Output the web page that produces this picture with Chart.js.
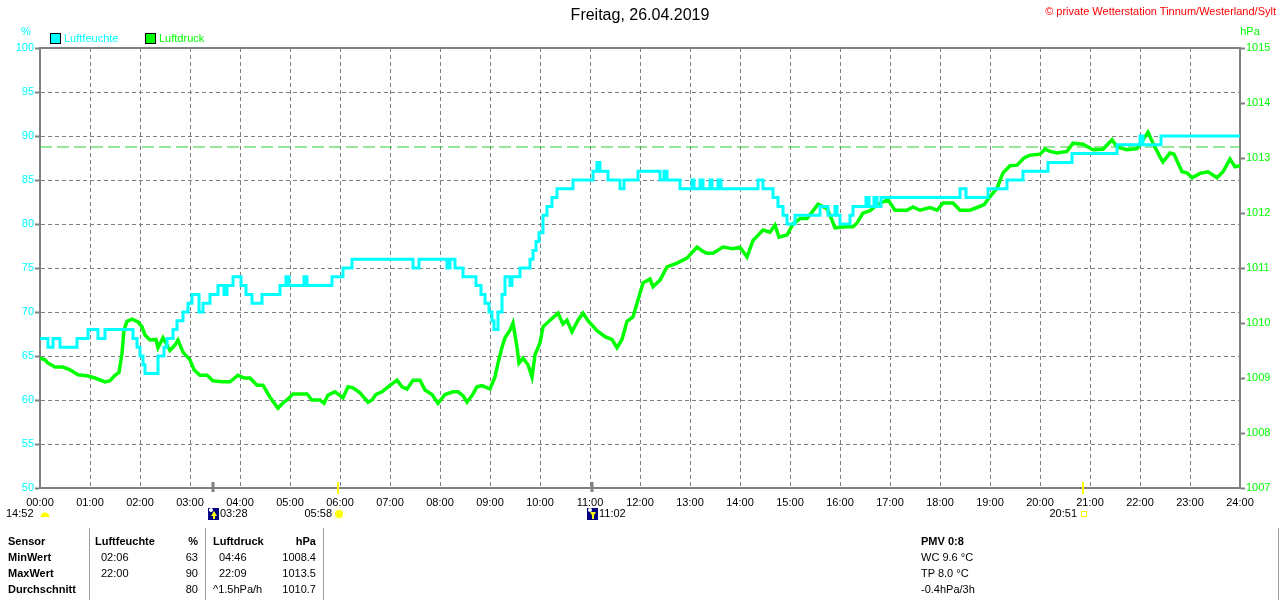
<!DOCTYPE html>
<html>
<head>
<meta charset="utf-8">
<title>Freitag, 26.04.2019</title>
<script src="https://cdn.jsdelivr.net/npm/chart.js@4.4.1/dist/chart.umd.min.js"></script>
<style>
  body { margin: 0; background: #fff; font-family: "Liberation Sans", Arial, sans-serif; }
  #wrap { position: relative; width: 1280px; height: 600px; overflow: hidden; }
  #chart { position: absolute; left: 0; top: 0; }
  .t { position: absolute; font-size: 11px; line-height: 13px; white-space: nowrap; color: #000; }
  .b { font-weight: bold; }
  .sep { position: absolute; top: 528px; width: 1px; height: 72px; background: #a0a0a0; }
</style>
</head>
<body>
<div id="wrap">
  <canvas id="chart" width="1280" height="600"></canvas>

  <span class="t" style="right:4px;top:5px;color:#f00">© private Wetterstation Tinnum/Westerland/Sylt</span>

  <div class="sep" style="left:89px"></div>
  <div class="sep" style="left:205px"></div>
  <div class="sep" style="left:323px"></div>
  <div class="sep" style="left:1278px"></div>

  <span class="t b" style="left:8px;top:535px">Sensor</span>
  <span class="t b" style="left:8px;top:551px">MinWert</span>
  <span class="t b" style="left:8px;top:567px">MaxWert</span>
  <span class="t b" style="left:8px;top:583px">Durchschnitt</span>

  <span class="t b" style="left:95px;top:535px">Luftfeuchte</span>
  <span class="t b" style="right:1082px;top:535px">%</span>
  <span class="t" style="left:101px;top:551px">02:06</span>
  <span class="t" style="right:1082px;top:551px">63</span>
  <span class="t" style="left:101px;top:567px">22:00</span>
  <span class="t" style="right:1082px;top:567px">90</span>
  <span class="t" style="right:1082px;top:583px">80</span>

  <span class="t b" style="left:213px;top:535px">Luftdruck</span>
  <span class="t b" style="right:964px;top:535px">hPa</span>
  <span class="t" style="left:219px;top:551px">04:46</span>
  <span class="t" style="right:964px;top:551px">1008.4</span>
  <span class="t" style="left:219px;top:567px">22:09</span>
  <span class="t" style="right:964px;top:567px">1013.5</span>
  <span class="t" style="left:213px;top:583px">^1.5hPa/h</span>
  <span class="t" style="right:964px;top:583px">1010.7</span>

  <span class="t b" style="left:921px;top:535px">PMV 0:8</span>
  <span class="t" style="left:921px;top:551px">WC 9.6 °C</span>
  <span class="t" style="left:921px;top:567px">TP 8.0 °C</span>
  <span class="t" style="left:921px;top:583px">-0.4hPa/3h</span>
</div>

<script>
// time axis in hours since midnight
const xTickLabels = ['00:00', '01:00', '02:00', '03:00', '04:00', '05:00', '06:00', '07:00', '08:00',
  '09:00', '10:00', '11:00', '12:00', '13:00', '14:00', '15:00', '16:00', '17:00', '18:00',
  '19:00', '20:00', '21:00', '22:00', '23:00', '24:00'];
const humTicks = [50, 55, 60, 65, 70, 75, 80, 85, 90, 95, 100];
const presTicks = [1007, 1008, 1009, 1010, 1011, 1012, 1013, 1014, 1015];

// Luftfeuchte (%), value valid from the given time on
const humTimes = [0.00, 0.16, 0.26, 0.40, 0.74, 0.96, 1.16, 1.30, 1.86, 1.94, 2.00, 2.06, 2.10,
  2.36, 2.48, 2.54, 2.66, 2.74, 2.86, 2.96, 3.04, 3.18, 3.26, 3.40, 3.56, 3.68, 3.74, 3.86,
  4.02, 4.12, 4.24, 4.44, 4.80, 4.92, 4.98, 5.28, 5.34, 5.84, 6.06, 6.24, 7.46, 7.58, 8.14,
  8.20, 8.30, 8.46, 8.72, 8.82, 8.90, 8.98, 9.04, 9.08, 9.16, 9.24, 9.30, 9.40, 9.44, 9.60,
  9.80, 9.86, 9.92, 9.98, 10.06, 10.14, 10.24, 10.34, 10.66, 11.06, 11.14, 11.20, 11.36,
  11.60, 11.68, 11.96, 12.40, 12.48, 12.54, 12.80, 13.04, 13.08, 13.20, 13.26, 13.40, 13.44,
  13.56, 13.62, 14.36, 14.46, 14.66, 14.76, 14.86, 14.94, 15.10, 15.60, 15.76, 15.90, 15.94,
  16.00, 16.20, 16.26, 16.52, 16.58, 16.68, 16.74, 16.82, 18.40, 18.52, 18.96, 19.34, 19.66,
  20.16, 20.64, 21.54, 22.00, 22.06, 22.42, 24.00];
const humValues = [67, 66, 67, 66, 67, 68, 67, 68, 67, 66, 65, 64, 63,
  65, 66, 67, 68, 69, 70, 71, 72, 70, 71, 72, 73, 72, 73, 74,
  73, 72, 71, 72, 73, 74, 73, 74, 73, 74, 75, 76, 75, 76, 75,
  76, 75, 74, 73, 72, 71, 70, 69, 68, 70, 72, 74, 73, 74, 75,
  76, 77, 78, 79, 81, 82, 83, 84, 85, 86, 87, 86, 85,
  84, 85, 86, 85, 86, 85, 84, 85, 84, 85, 84, 85, 84,
  85, 84, 85, 84, 83, 82, 81, 80, 81, 82, 81, 82, 81,
  80, 81, 82, 83, 82, 83, 82, 83, 84, 83, 84, 85, 86,
  87, 88, 89, 90, 89, 90, 90];

// Luftdruck (hPa)
const presTimes = [0.00, 0.10, 0.16, 0.30, 0.46, 0.60, 0.76, 0.94, 1.10, 1.30, 1.40, 1.50, 1.58,
  1.64, 1.68, 1.74, 1.84, 1.96, 2.04, 2.10, 2.20, 2.32, 2.36, 2.46, 2.54, 2.60, 2.70, 2.76,
  2.86, 3.00, 3.08, 3.20, 3.34, 3.46, 3.64, 3.80, 3.96, 4.08, 4.20, 4.34, 4.46, 4.60, 4.76,
  4.86, 4.94, 5.06, 5.34, 5.44, 5.60, 5.68, 5.76, 5.90, 6.06, 6.16, 6.26, 6.40, 6.56, 6.64,
  6.72, 6.84, 6.96, 7.14, 7.24, 7.34, 7.46, 7.60, 7.70, 7.84, 7.96, 8.10, 8.26, 8.36, 8.46,
  8.54, 8.64, 8.74, 8.84, 9.00, 9.10, 9.16, 9.24, 9.30, 9.40, 9.46, 9.54, 9.58, 9.66, 9.76,
  9.84, 9.90, 10.00, 10.06, 10.20, 10.36, 10.46, 10.54, 10.64, 10.76, 10.86, 10.96, 11.14,
  11.30, 11.44, 11.54, 11.64, 11.74, 11.86, 11.96, 12.06, 12.20, 12.26, 12.40, 12.54, 12.74,
  12.94, 13.14, 13.26, 13.34, 13.46, 13.66, 13.86, 14.00, 14.14, 14.26, 14.46, 14.60, 14.70,
  14.78, 14.94, 15.06, 15.20, 15.34, 15.46, 15.56, 15.74, 15.84, 15.90, 16.10, 16.26, 16.34,
  16.46, 16.60, 16.74, 16.86, 16.96, 17.10, 17.34, 17.46, 17.60, 17.80, 17.94, 18.06, 18.26,
  18.40, 18.60, 18.74, 18.88, 19.00, 19.14, 19.26, 19.40, 19.54, 19.68, 19.80, 20.00, 20.10,
  20.20, 20.34, 20.54, 20.66, 20.86, 21.06, 21.26, 21.44, 21.54, 21.74, 21.94, 22.06, 22.16,
  22.26, 22.40, 22.46, 22.60, 22.68, 22.76, 22.84, 22.94, 23.04, 23.20, 23.36, 23.54, 23.66,
  23.80, 23.90, 24.00];
const presValues = [1009.36, 1009.33, 1009.27, 1009.20, 1009.20, 1009.15, 1009.06, 1009.04, 1009.00,
  1008.93, 1008.95, 1009.05, 1009.10, 1009.45, 1009.87, 1010.03, 1010.07, 1010.02, 1009.93,
  1009.78, 1009.69, 1009.70, 1009.55, 1009.73, 1009.60, 1009.50, 1009.60, 1009.69, 1009.47,
  1009.33, 1009.15, 1009.05, 1009.05, 1008.95, 1008.93, 1008.93, 1009.05, 1009.00, 1009.00,
  1008.87, 1008.87, 1008.65, 1008.45, 1008.55, 1008.60, 1008.71, 1008.71, 1008.60, 1008.60,
  1008.54, 1008.69, 1008.75, 1008.64, 1008.84, 1008.82, 1008.73, 1008.56, 1008.60, 1008.70,
  1008.75, 1008.84, 1008.96, 1008.84, 1008.80, 1008.96, 1008.96, 1008.78, 1008.70, 1008.54,
  1008.70, 1008.75, 1008.75, 1008.68, 1008.56, 1008.68, 1008.84, 1008.86, 1008.80, 1009.02,
  1009.27, 1009.56, 1009.73, 1009.87, 1010.00, 1009.56, 1009.27, 1009.36, 1009.24, 1009.02,
  1009.42, 1009.64, 1009.93, 1010.05, 1010.18, 1009.98, 1010.05, 1009.84, 1010.05, 1010.18,
  1010.04, 1009.86, 1009.75, 1009.70, 1009.55, 1009.70, 1010.03, 1010.11, 1010.42, 1010.73,
  1010.80, 1010.66, 1010.78, 1011.02, 1011.09, 1011.18, 1011.38, 1011.30, 1011.27, 1011.27,
  1011.38, 1011.35, 1011.38, 1011.20, 1011.50, 1011.69, 1011.65, 1011.78, 1011.56, 1011.60,
  1011.80, 1011.90, 1011.90, 1012.04, 1012.16, 1012.08, 1011.87, 1011.73, 1011.75, 1011.75,
  1011.82, 1012.00, 1012.04, 1012.15, 1012.20, 1012.24, 1012.05, 1012.05, 1012.11, 1012.05,
  1012.10, 1012.05, 1012.18, 1012.18, 1012.05, 1012.05, 1012.10, 1012.15, 1012.30, 1012.45,
  1012.73, 1012.86, 1012.87, 1013.00, 1013.05, 1013.07, 1013.16, 1013.12, 1013.09, 1013.12,
  1013.27, 1013.25, 1013.15, 1013.16, 1013.33, 1013.20, 1013.15, 1013.17, 1013.33, 1013.47,
  1013.27, 1013.02, 1012.93, 1013.09, 1013.07, 1012.91, 1012.75, 1012.73, 1012.64, 1012.72,
  1012.75, 1012.64, 1012.75, 1012.98, 1012.84, 1012.86];

const refPressure = 1013.2;

// moon / sun rise and set
const eventTimes = [3 + 28 / 60, 5 + 58 / 60, 11 + 2 / 60, 20 + 51 / 60];
const eventLabels = ['03:28', '05:58', '11:02', '20:51'];
const eventKinds = ['moonrise', 'sunrise', 'moonset', 'sunset'];
const dayLength = '14:52';

const FONT = '"Liberation Sans", Arial, sans-serif';
const CYAN = '#00ffff';
const GREEN = '#00ff00';
const GRID = '#808080';

Chart.defaults.font.family = FONT;
Chart.defaults.font.size = 11;

function toPoints(xs, ys) {
    return xs.map((x, i) => ({ x: x, y: ys[i] }));
}

const extras = {
    id: 'extras',
    afterDraw(chart) {
        const ctx = chart.ctx;
        const area = chart.chartArea;
        const x = chart.scales.x;
        ctx.save();

        // top frame line
        ctx.strokeStyle = GRID;
        ctx.lineWidth = 2;
        ctx.beginPath();
        ctx.moveTo(area.left - 1, area.top);
        ctx.lineTo(area.right + 1, area.top);
        ctx.stroke();

        ctx.font = '11px ' + FONT;
        ctx.textBaseline = 'middle';

        // legend
        [['Luftfeuchte', CYAN, 50], ['Luftdruck', GREEN, 145]].forEach(item => {
            ctx.fillStyle = item[1];
            ctx.fillRect(item[2], 33, 10, 10);
            ctx.strokeStyle = '#000';
            ctx.lineWidth = 1;
            ctx.strokeRect(item[2] + 0.5, 33.5, 10, 10);
            ctx.fillText(item[0], item[2] + 14, 38.5);
        });

        // axis units
        ctx.textAlign = 'center';
        ctx.fillStyle = CYAN;
        ctx.fillText('%', 26, 32);
        ctx.fillStyle = GREEN;
        ctx.fillText('hPa', 1250, 32);

        // day length
        ctx.textAlign = 'left';
        ctx.fillStyle = '#000';
        ctx.fillText(dayLength, 6, 514);
        ctx.fillStyle = '#ffff00';
        ctx.beginPath();
        ctx.arc(45, 517, 4.5, Math.PI, 0);
        ctx.fill();

        // rise / set markers
        eventTimes.forEach((t, i) => {
            const px = Math.round(x.getPixelForValue(t));
            const kind = eventKinds[i];
            const isSun = kind.startsWith('sun');
            ctx.strokeStyle = isSun ? '#ffff00' : GRID;
            ctx.lineWidth = isSun ? 2 : 3;
            ctx.beginPath();
            ctx.moveTo(px, area.bottom - 6);
            ctx.lineTo(px, area.bottom + (isSun ? 6 : 4));
            ctx.stroke();

            ctx.fillStyle = '#000';
            if (isSun) {
                ctx.textAlign = 'right';
                ctx.fillText(eventLabels[i], px - 6, 514);
                if (kind === 'sunrise') {
                    ctx.fillStyle = '#ffff00';
                    ctx.beginPath();
                    ctx.arc(px + 1, 514, 4, 0, Math.PI * 2);
                    ctx.fill();
                    ctx.strokeStyle = '#ffff99';
                    ctx.lineWidth = 1;
                    for (let a = 0; a < 8; a++) {
                        const ang = a * Math.PI / 4;
                        ctx.beginPath();
                        ctx.moveTo(px + 1 + Math.cos(ang) * 5, 514 + Math.sin(ang) * 5);
                        ctx.lineTo(px + 1 + Math.cos(ang) * 7, 514 + Math.sin(ang) * 7);
                        ctx.stroke();
                    }
                } else {
                    ctx.strokeStyle = '#ffff00';
                    ctx.lineWidth = 1;
                    ctx.strokeRect(px - 1.5, 511.5, 5, 5);
                }
            } else {
                ctx.fillStyle = '#000080';
                ctx.fillRect(px - 5, 508, 11, 12);
                ctx.fillStyle = '#ffffff';
                ctx.beginPath();
                ctx.arc(px - 2, 510, 2, 0, Math.PI * 2);
                ctx.fill();
                ctx.fillStyle = '#ffff00';
                ctx.beginPath();
                if (kind === 'moonrise') {
                    ctx.moveTo(px + 1, 511);
                    ctx.lineTo(px + 4, 516);
                    ctx.lineTo(px - 2, 516);
                } else {
                    ctx.moveTo(px + 1, 517);
                    ctx.lineTo(px + 4, 512);
                    ctx.lineTo(px - 2, 512);
                }
                ctx.fill();
                ctx.fillRect(px, 514, 2, 5);
                ctx.fillStyle = '#000';
                ctx.textAlign = 'left';
                ctx.fillText(eventLabels[i], px + 7, 514);
            }
        });
        ctx.restore();
    }
};

new Chart(document.getElementById('chart'), {
    type: 'line',
    data: {
        datasets: [{
            label: 'Luftfeuchte',
            data: toPoints(humTimes, humValues),
            yAxisID: 'yHum',
            borderColor: CYAN,
            borderWidth: 3,
            stepped: true,
            pointRadius: 0,
        }, {
            label: 'Luftdruck',
            data: toPoints(presTimes, presValues),
            yAxisID: 'yPres',
            borderColor: GREEN,
            borderWidth: 3.5,
            tension: 0,
            pointRadius: 0,
        }, {
            label: 'Normaldruck',
            data: [{ x: 0, y: refPressure }, { x: 24, y: refPressure }],
            yAxisID: 'yPres',
            borderColor: '#33cc33',
            borderWidth: 1,
            borderDash: [12, 5],
            pointRadius: 0,
        }],
    },
    options: {
        responsive: false,
        animation: false,
        events: [],
        layout: { padding: { left: 0, right: 0, top: 0, bottom: 88 } },
        plugins: {
            legend: { display: false },
            tooltip: { enabled: false },
            title: {
                display: true,
                text: 'Freitag, 26.04.2019',
                color: '#000',
                font: { size: 16, weight: 'normal' },
                padding: { top: 6, bottom: 22.8 },
            },
        },
        scales: {
            x: {
                type: 'linear',
                min: 0,
                max: 24,
                afterBuildTicks: s => { s.ticks = xTickLabels.map((_, i) => ({ value: i })); },
                afterFit: s => { s.height = 24; },
                ticks: {
                    callback: v => xTickLabels[v],
                    color: '#000',
                    padding: 8,
                    maxRotation: 0,
                    autoSkip: false,
                },
                grid: { color: GRID, lineWidth: 1, drawTicks: false },
                border: { color: GRID, width: 2, dash: [4, 3] },
            },
            yHum: {
                type: 'linear',
                position: 'left',
                min: 50,
                max: 100,
                afterBuildTicks: s => { s.ticks = humTicks.map(v => ({ value: v })); },
                afterFit: s => { s.width = 40; },
                ticks: { color: CYAN, padding: 1, callback: v => String(v) },
                grid: { color: GRID, lineWidth: 1, tickLength: 5, tickColor: GRID, tickWidth: 2 },
                border: { color: GRID, width: 2, dash: [4, 3] },
            },
            yPres: {
                type: 'linear',
                position: 'right',
                min: 1007,
                max: 1015,
                afterBuildTicks: s => { s.ticks = presTicks.map(v => ({ value: v })); },
                afterFit: s => { s.width = 40; },
                ticks: { color: GREEN, padding: 1, callback: v => String(v) },
                grid: { drawOnChartArea: false, tickLength: 5, tickColor: GRID, tickWidth: 2 },
                border: { color: GRID, width: 2 },
            },
        },
    },
    plugins: [extras],
});
</script>
</body>
</html>
